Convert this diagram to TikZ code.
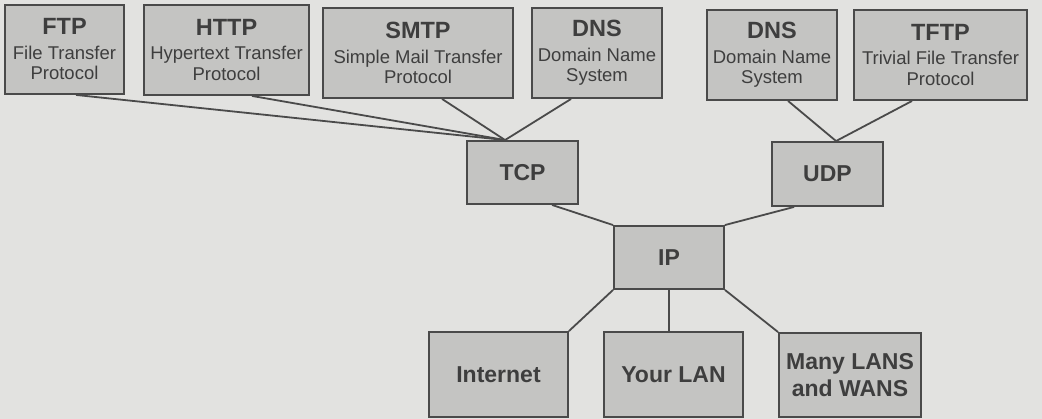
\documentclass[tikz,border=0pt]{standalone}
\usepackage{fontspec}
\setmainfont{Liberation Sans}
\definecolor{paper}{HTML}{E2E2E0}
\definecolor{boxfill}{HTML}{C4C4C2}
\definecolor{ink}{HTML}{4A4A4A}
\definecolor{txt}{HTML}{3E3E3E}
\begin{document}
\begin{tikzpicture}[x=1pt,y=-1pt,
  proto/.style={draw=ink, line width=1.9pt, fill=boxfill, inner sep=0pt,
    text=txt, align=center, font=\fontsize{18.5}{20.5}\selectfont},
  link/.style={draw=ink, line width=1.8pt},
  ttl/.style={font=\fontsize{23}{25}\selectfont\bfseries}]
\fill[paper] (0,0) rectangle (1042,419);
\useasboundingbox (0,0) rectangle (1042,419);

% application layer
\node[proto, minimum width=119pt, minimum height=89pt] (ftp) at (64.5,49.5)
  {{\fontsize{23.5}{25}\selectfont\bfseries FTP}\\[4pt]File Transfer\\Protocol};
\node[proto, minimum width=165pt, minimum height=90pt] (http) at (226.5,50)
  {{\fontsize{23.5}{25}\selectfont\bfseries HTTP}\\[4pt]Hypertext Transfer\\Protocol};
\node[proto, minimum width=190pt, minimum height=90pt] (smtp) at (418,53)
  {{\fontsize{23.5}{25}\selectfont\bfseries SMTP}\\[4pt]Simple Mail Transfer\\Protocol};
\node[proto, minimum width=130pt, minimum height=90pt] (dnsa) at (597,53)
  {{\fontsize{23.5}{25}\selectfont\bfseries DNS}\\[4pt]Domain Name\\System};
\node[proto, minimum width=130pt, minimum height=90pt] (dnsb) at (772,55)
  {{\fontsize{23.5}{25}\selectfont\bfseries DNS}\\[4pt]Domain Name\\System};
\node[proto, minimum width=173pt, minimum height=90pt] (tftp) at (940.5,55)
  {{\fontsize{23.5}{25}\selectfont\bfseries TFTP}\\[4pt]Trivial File Transfer\\Protocol};

% transport and network layers
\node[proto, ttl, minimum width=111pt, minimum height=63pt] (tcp) at (522.5,172.5) {TCP};
\node[proto, ttl, minimum width=111pt, minimum height=64pt] (udp) at (827.5,174) {UDP};
\node[proto, ttl, minimum width=110pt, minimum height=63pt] (ip) at (669,257.5) {IP};

% networks
\node[proto, ttl, minimum width=139pt, minimum height=85pt] (inet) at (498.5,374.5) {Internet};
\node[proto, ttl, minimum width=139pt, minimum height=85pt] (lan) at (673.5,374.5) {Your LAN};
\node[proto, ttl, minimum width=142pt, minimum height=84pt, font=\fontsize{23}{27}\selectfont\bfseries] (wan) at (850,375) {Many LANS\\and WANS};

% junction points on the transport boxes
\coordinate (tcptop) at ([xshift=39pt]tcp.north west);
\coordinate (udptop) at ([xshift=65pt]udp.north west);

\draw[link] ([xshift=72pt]ftp.south west) -- (tcptop);
\draw[link] ([xshift=109pt]http.south west) -- (tcptop);
\draw[link] ([xshift=120pt]smtp.south west) -- (tcptop);
\draw[link] ([xshift=40pt]dnsa.south west) -- (tcptop);
\draw[link] ([xshift=82pt]dnsb.south west) -- (udptop);
\draw[link] ([xshift=59pt]tftp.south west) -- (udptop);

\draw[link] ([xshift=86pt]tcp.south west) -- (ip.north west);
\draw[link] ([xshift=23pt]udp.south west) -- (ip.north east);

\draw[link] (ip.south west) -- (inet.north east);
\draw[link] (ip.south) -- (ip.south |- lan.north);
\draw[link] (ip.south east) -- (wan.north west);
\end{tikzpicture}
\end{document}
